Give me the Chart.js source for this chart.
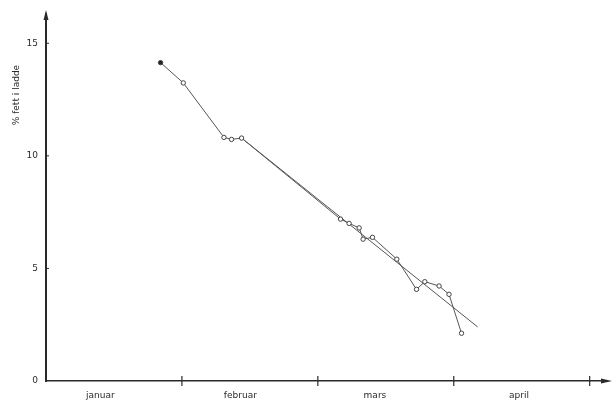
<!DOCTYPE html>
<html>
<head>
<meta charset="utf-8">
<script src="https://cdn.jsdelivr.net/npm/chart.js@4/dist/chart.umd.min.js"></script>
<style>
  html, body { margin: 0; padding: 0; background: #fff; }
</style>
</head>
<body>
<canvas id="fatchart" width="616" height="407"></canvas>
<script>
// Data (x in months from 1 January, y = % fett)
const months = ['januar', 'februar', 'mars', 'april'];
const monthX = [0.40, 1.43, 2.42, 3.48];
const monthBounds = [1, 2, 3, 4];
const yTicks = [0, 5, 10, 15];
const sampleX = [0.843, 1.010, 1.309, 1.365, 1.439, 2.167, 2.230, 2.304, 2.333, 2.402, 2.581, 2.726, 2.787, 2.892, 2.965, 3.057];
const sampleY = [14.14, 13.24, 10.82, 10.73, 10.79, 7.19, 7.00, 6.80, 6.30, 6.38, 5.41, 4.07, 4.41, 4.22, 3.85, 2.12];
const trendX = [1.439, 3.176];
const trendY = [10.79, 2.40];
const yTitle = '% fett i ladde';

const ink = '#2a2a2a';

// axis arrows, month ticks, inward y ticks, y title near the top
const axisDecor = {
    id: 'axisDecor',
    afterDraw(chart){
        const ctx = chart.ctx;
        const xs = chart.scales.x, ys = chart.scales.y;
        const left = xs.left, bottom = ys.bottom, right = xs.right, top = ys.top;
        ctx.save();
        ctx.strokeStyle = ink;
        ctx.fillStyle = ink;
        // y arrow
        ctx.beginPath();
        ctx.moveTo(left, top - 4);
        ctx.lineTo(left - 2.5, top + 6);
        ctx.lineTo(left + 2.5, top + 6);
        ctx.closePath();
        ctx.fill();
        // x arrow
        ctx.beginPath();
        ctx.moveTo(right + 6, bottom);
        ctx.lineTo(right - 5, bottom - 2.5);
        ctx.lineTo(right - 5, bottom + 2.5);
        ctx.closePath();
        ctx.fill();
        // month boundaries
        ctx.lineWidth = 1.2;
        monthBounds.forEach(v => {
            const px = xs.getPixelForValue(v);
            ctx.beginPath();
            ctx.moveTo(px, bottom - 5);
            ctx.lineTo(px, bottom + 5);
            ctx.stroke();
        });
        // y ticks
        ctx.lineWidth = 1;
        yTicks.slice(1).forEach(v => {
            const py = ys.getPixelForValue(v);
            ctx.beginPath();
            ctx.moveTo(left, py);
            ctx.lineTo(left + 3, py);
            ctx.stroke();
        });
        // y title
        ctx.translate(17, ys.getPixelForValue(12.7));
        ctx.rotate(-Math.PI / 2);
        ctx.font = '9px "DejaVu Sans"';
        ctx.textAlign = 'center';
        ctx.textBaseline = 'middle';
        ctx.fillText(yTitle, 0, 0);
        ctx.restore();
    }
};

new Chart('fatchart', {
    type: 'scatter',
    data: {
        datasets: [{
            data: sampleX.map((x, i) => ({x: x, y: sampleY[i]})),
            showLine: true,
            borderColor: '#555',
            borderWidth: 1,
            pointRadius: 2.2,
            pointBorderWidth: 1,
            pointBorderColor: '#444',
            pointBackgroundColor: sampleX.map((x, i) => i === 0 ? '#222' : '#fff')
        }, {
            data: trendX.map((x, i) => ({x: x, y: trendY[i]})),
            showLine: true,
            borderColor: '#555',
            borderWidth: 1,
            pointRadius: 0
        }]
    },
    options: {
        responsive: false,
        animation: false,
        layout: { padding: { top: 14, right: 10, left: 0, bottom: 0 } },
        plugins: { legend: { display: false }, tooltip: { enabled: false } },
        scales: {
            x: {
                type: 'linear',
                min: 0,
                max: 4.12,
                afterBuildTicks: s => { s.ticks = monthX.map(v => ({value: v})); },
                afterFit: s => { s.height = 26; },
                ticks: {
                    callback: (v) => months[monthX.indexOf(v)],
                    color: ink,
                    font: { family: 'DejaVu Sans', size: 9 },
                    padding: 9,
                    maxRotation: 0
                },
                grid: { display: false, drawTicks: false, tickLength: 0 },
                border: { display: true, color: ink, width: 1.5 }
            },
            y: {
                min: 0,
                max: 16.3,
                afterBuildTicks: s => { s.ticks = yTicks.map(v => ({value: v})); },
                afterFit: s => { s.width = 46; },
                ticks: {
                    color: ink,
                    font: { family: 'DejaVu Sans', size: 9 },
                    padding: 8
                },
                grid: { display: false, drawTicks: false, tickLength: 0 },
                border: { display: true, color: ink, width: 2 }
            }
        }
    },
    plugins: [axisDecor]
});
</script>
</body>
</html>
